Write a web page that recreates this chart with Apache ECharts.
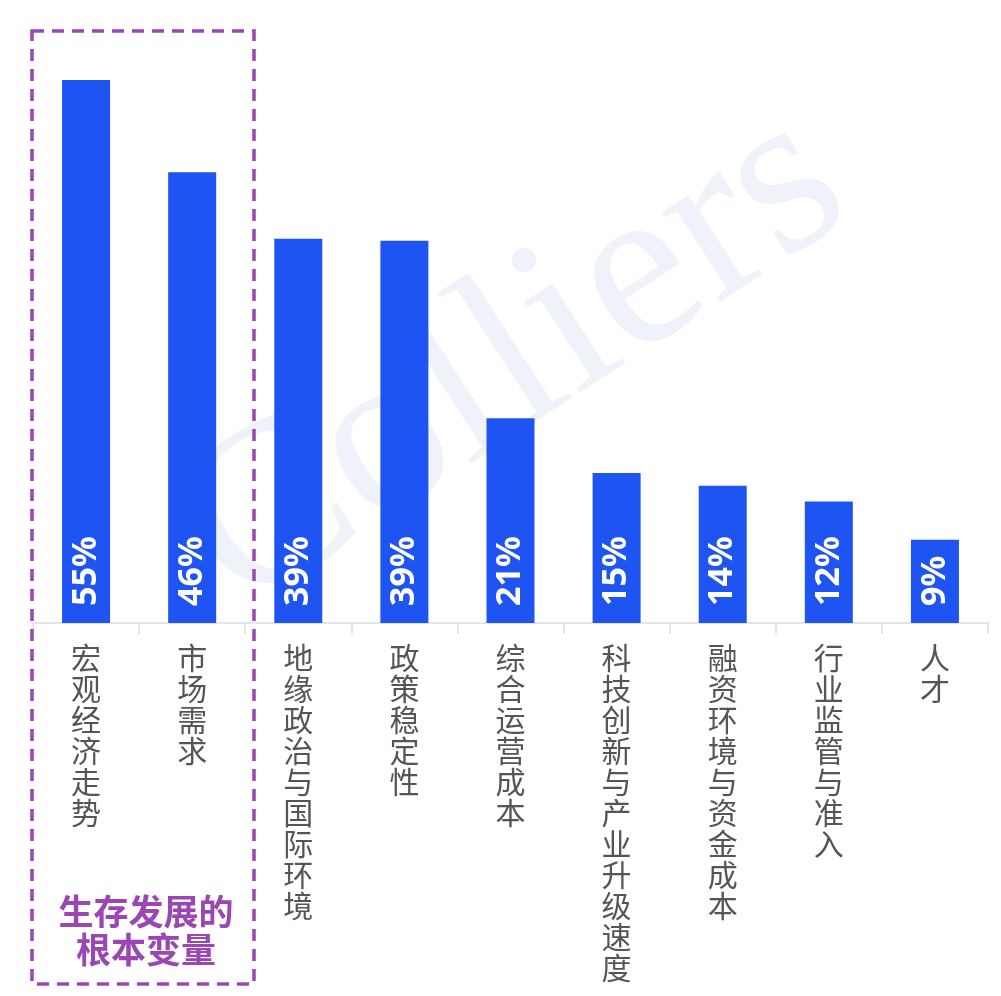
<!DOCTYPE html>
<html>
<head>
<meta charset="utf-8">
<script src="https://cdn.jsdelivr.net/npm/echarts@6/dist/echarts.min.js"></script>
<style>
html,body{margin:0;padding:0;background:#fff;}
#chart{width:1001px;height:996px;}
</style>
</head>
<body>
<div id="chart"></div>
<script>
const categories = ['宏观经济走势','市场需求','地缘政治与国际环境','政策稳定性','综合运营成本','科技创新与产业升级速度','融资环境与资金成本','行业监管与准入','人才'];
const values = [55.4, 46.0, 39.2, 39.0, 20.9, 15.3, 14.0, 12.4, 8.5];
const valueLabels = ['55%','46%','39%','39%','21%','15%','14%','12%','9%'];
const highlightText = '生存发展的\n根本变量';
const watermarkText = 'Colliers';

const chart = echarts.init(document.getElementById('chart'));
const purple = '#9b46b4';
chart.setOption({
  animation: false,
  backgroundColor: '#ffffff',
  grid: { left: 33, right: 13, top: 35, bottom: 373, containLabel: false },
  xAxis: {
    type: 'category',
    data: categories,
    axisLine: { show: true, lineStyle: { color: '#e2e5ed', width: 2 } },
    axisTick: { show: true, length: 11, lineStyle: { color: '#e2e5ed', width: 2 } },
    axisLabel: {
      interval: 0,
      margin: 19,
      color: '#555555',
      fontSize: 30,
      lineHeight: 31,
      fontFamily: '"Noto Sans CJK SC", sans-serif',
      formatter: v => v.split('').join('\n')
    }
  },
  yAxis: {
    type: 'value', min: 0, max: 60, show: false,
    splitLine: { show: false }
  },
  graphic: [
    {
      type: 'text',
      z: -10,
      x: 515, y: 362,
      rotation: 33 * Math.PI / 180,
      style: {
        text: watermarkText,
        font: '232px "Liberation Serif", serif',
        fill: '#eff3f9',
        textAlign: 'center',
        textVerticalAlign: 'middle'
      }
    },
    {
      type: 'rect',
      z: 100,
      shape: { x: 32, y: 31, width: 222, height: 953 },
      style: { fill: 'none', stroke: purple, lineWidth: 3.5, lineDash: [12, 8] }
    },
    {
      type: 'text',
      z: 100,
      x: 146, y: 931,
      style: {
        text: highlightText,
        font: 'bold 35px "Noto Sans CJK SC", sans-serif',
        lineHeight: 38,
        fill: purple,
        textAlign: 'center',
        textVerticalAlign: 'middle'
      }
    }
  ],
  series: [{
    type: 'bar',
    data: values,
    barWidth: 48,
    itemStyle: { color: '#1e54f1' },
    label: {
      show: true,
      position: 'insideBottom',
      distance: 17,
      rotate: 90,
      align: 'left',
      verticalAlign: 'middle',
      color: '#ffffff',
      fontSize: 34,
      fontWeight: 'bold',
      fontFamily: '"Noto Sans", sans-serif',
      formatter: p => valueLabels[p.dataIndex]
    }
  }]
});
</script>
</body>
</html>
